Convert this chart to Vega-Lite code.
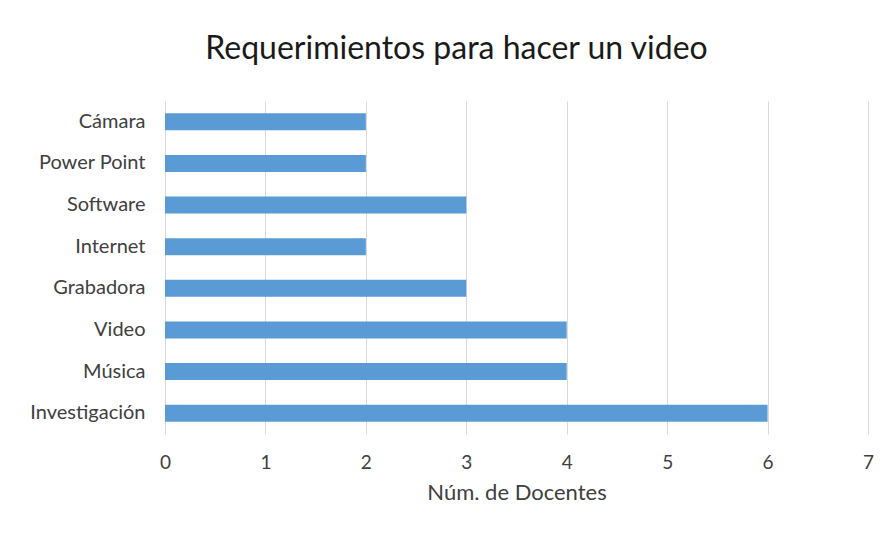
{
  "$schema": "https://vega.github.io/schema/vega-lite/v6.json",
  "autosize": "none",
  "width": 703,
  "height": 333,
  "padding": {"left": 165, "top": 101, "right": 22, "bottom": 105},
  "background": "white",
  "config": {
    "view": {"stroke": null},
    "font": "Lato"
  },
  "title": {
    "text": "Requerimientos  para hacer un video",
    "fontSize": 32,
    "fontWeight": "normal",
    "font": "Lato",
    "color": "#1a1a1a",
    "anchor": "middle",
    "dx": -60,
    "offset": 35
  },
  "data": {
    "values": [
      {"item": "Cámara", "n": 2},
      {"item": "Power Point", "n": 2},
      {"item": "Software", "n": 3},
      {"item": "Internet ", "n": 2},
      {"item": "Grabadora", "n": 3},
      {"item": "Video", "n": 4},
      {"item": "Música", "n": 4},
      {"item": "Investigación", "n": 6}
    ]
  },
  "mark": {"type": "bar", "color": "#5B9BD5"},
  "encoding": {
    "y": {
      "field": "item",
      "type": "nominal",
      "sort": null,
      "scale": {"paddingInner": 0.59, "paddingOuter": 0.295},
      "axis": {
        "title": null,
        "ticks": false,
        "domain": true,
        "domainColor": "#d9d9d9",
        "labelFontSize": 20,
        "labelColor": "#404040",
        "labelPadding": 20,
        "labelFont": "Lato"
      }
    },
    "x": {
      "field": "n",
      "type": "quantitative",
      "scale": {"domain": [0, 7], "nice": false},
      "axis": {
        "title": "Núm. de Docentes",
        "titleFontSize": 22,
        "titleFontWeight": "normal",
        "titleColor": "#404040",
        "titlePadding": 10,
        "titleFont": "Lato",
        "values": [0, 1, 2, 3, 4, 5, 6, 7],
        "grid": true,
        "gridColor": "#d9d9d9",
        "domain": false,
        "ticks": false,
        "labelOverlap": false,
        "labelFlush": false,
        "labelFontSize": 19,
        "labelColor": "#404040",
        "labelPadding": 19,
        "labelFont": "Lato"
      }
    }
  }
}
